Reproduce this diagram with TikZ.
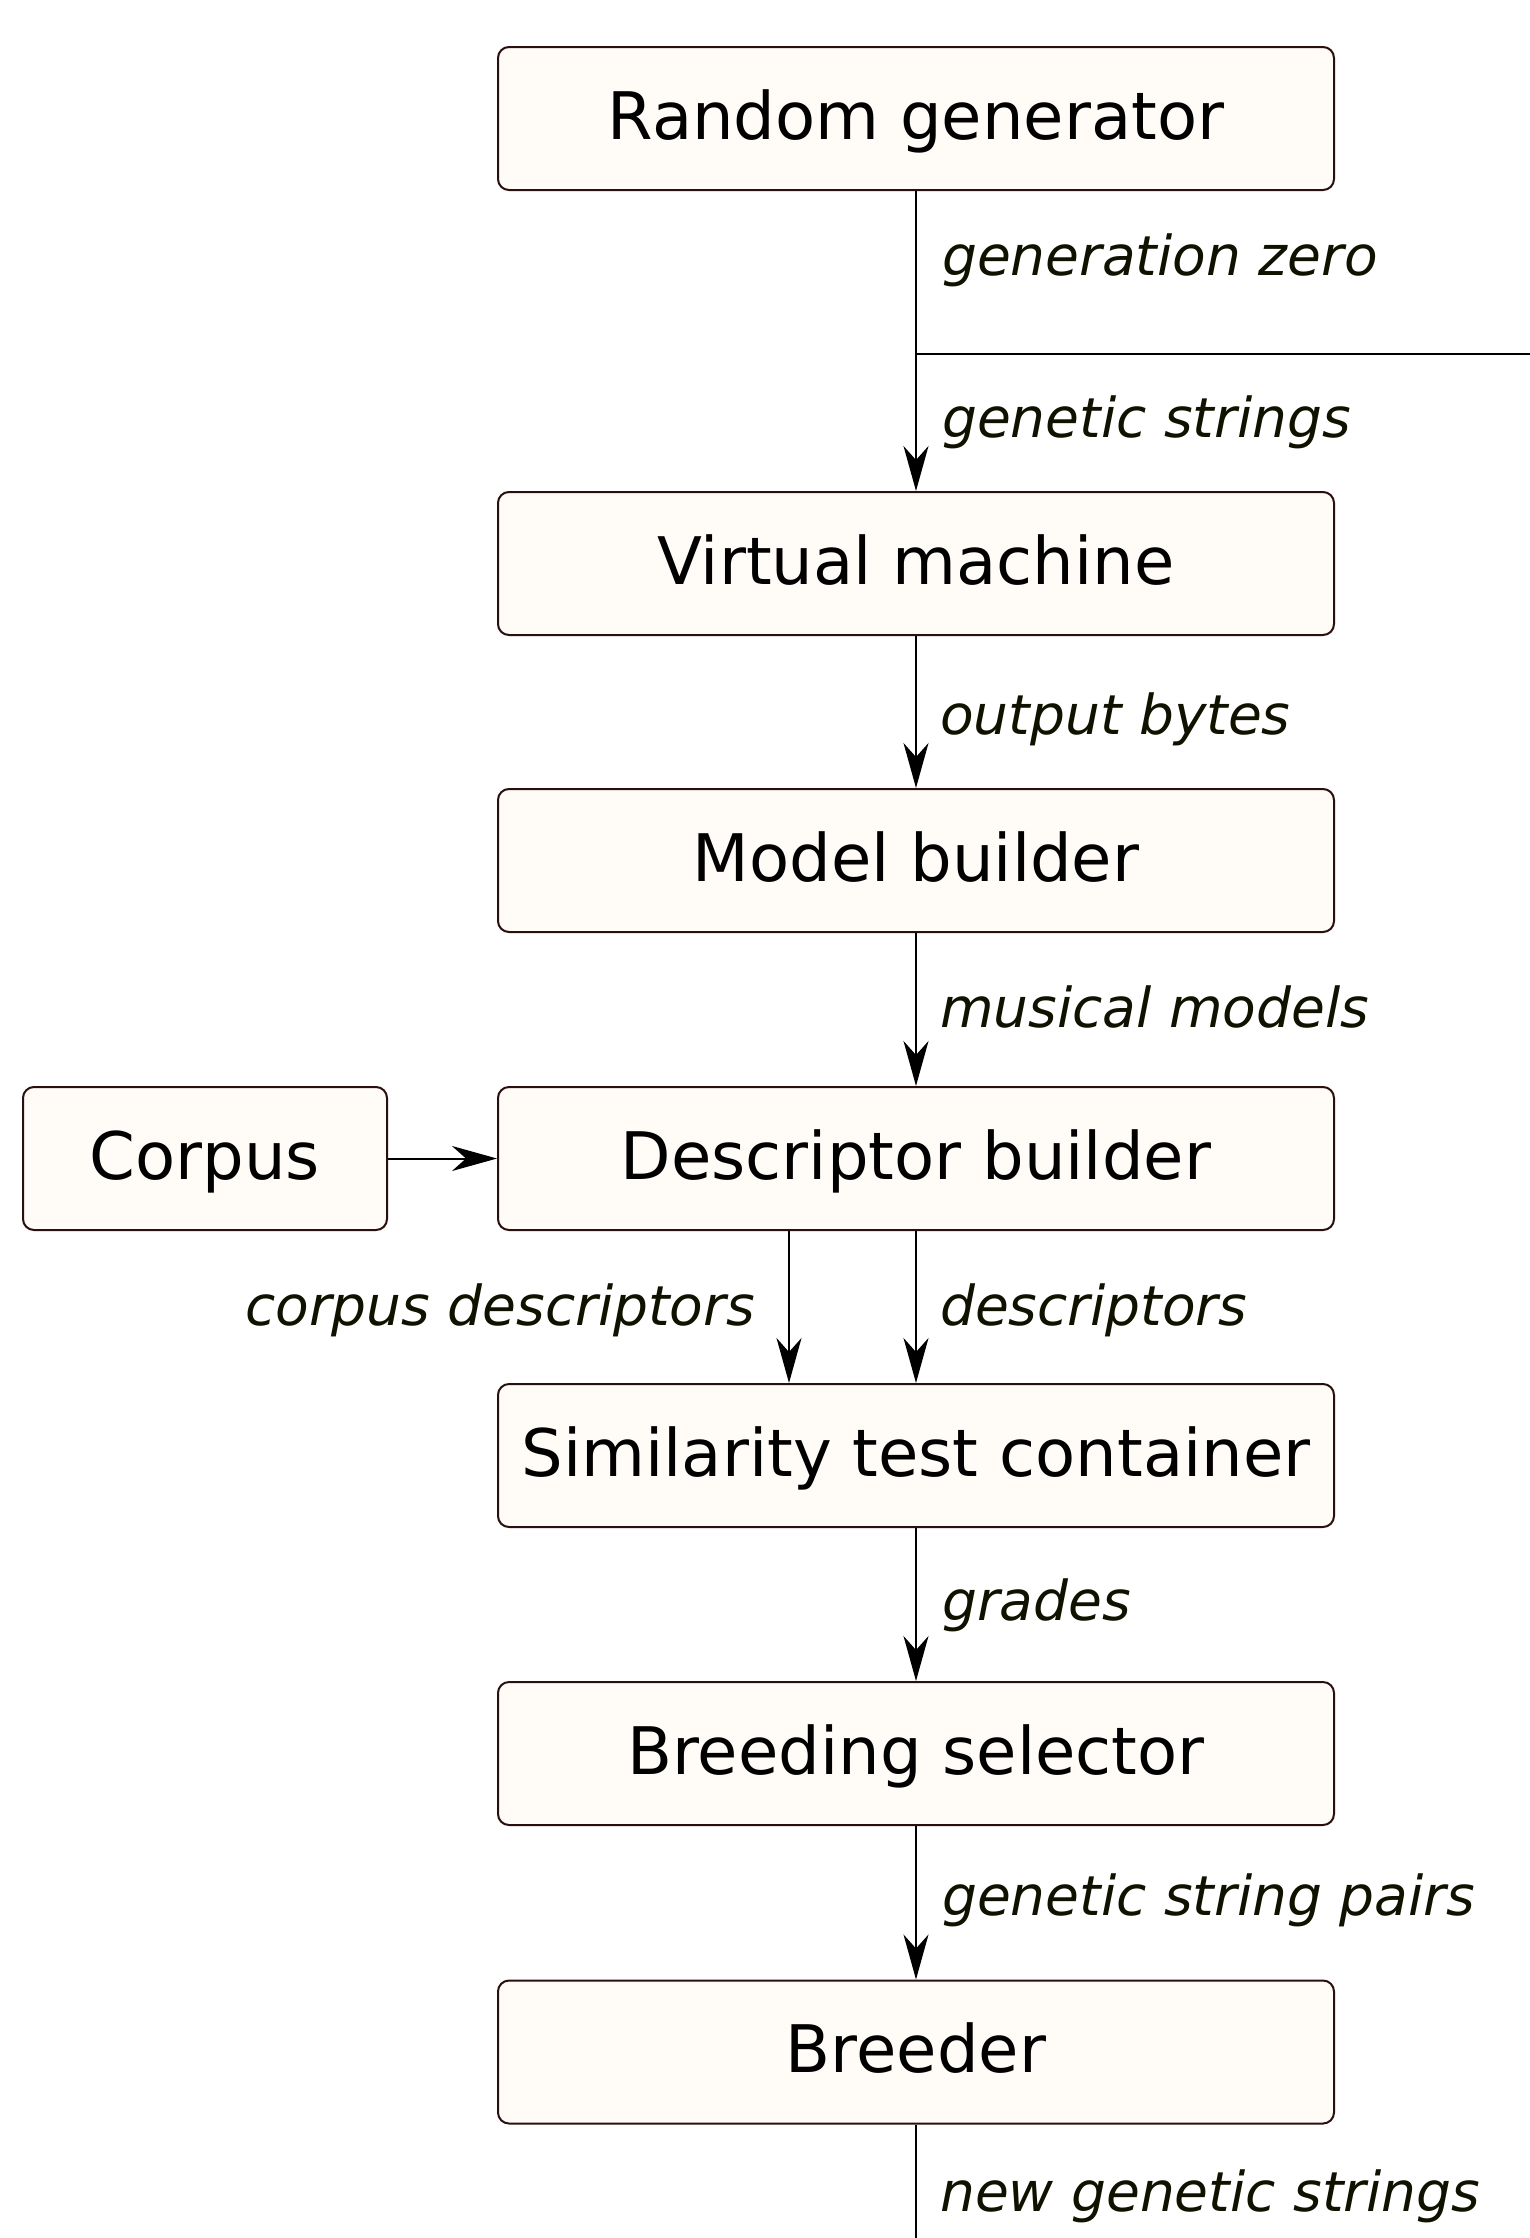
\documentclass[tikz,border=0pt]{standalone}
\usepackage{fontspec}
\setmainfont{DejaVu Sans}[ItalicFont={DejaVu Sans Oblique}]
\usetikzlibrary{arrows.meta}
\definecolor{boxfill}{HTML}{FFFBF6}
\definecolor{boxline}{HTML}{2A0F0F}
\definecolor{lbl}{HTML}{111100}
\begin{document}
\begin{tikzpicture}[x=1pt,y=-1pt,
  box/.style={draw=boxline, line width=2pt, fill=boxfill, rounded corners=11pt,
    minimum width=836pt, minimum height=143pt, inner sep=0pt,
    font=\fontsize{65.6}{78}\selectfont, text height=41pt, text depth=0pt},
  conn/.style={line width=2pt, draw=black},
  arr/.style={conn, -{Stealth[length=45pt,width=25pt,inset=14pt]}},
  lab/.style={font=\fontsize{55}{66}\selectfont\itshape, text=lbl, inner sep=0pt}]
\useasboundingbox (0,0) rectangle (1530,2238);
\fill[white] (0,0) rectangle (1530,2238);

\node[box] (rg) at (916,118.5) {Random generator};
\node[box] (vm) at (916,563.5) {Virtual machine};
\node[box] (mb) at (916,860.5) {Model builder};
\node[box] (db) at (916,1158.5) {Descriptor builder};
\node[box] (st) at (916,1455.5) {Similarity test container};
\node[box] (bs) at (916,1753.5) {Breeding selector};
\node[box] (br) at (916,2052) {Breeder};
\node[box, minimum width=364pt] (cp) at (205,1158.5) {Corpus};

\coordinate (j) at (916,354);
\coordinate (jr) at (1530,354);
\coordinate (bot) at (916,2238);

\draw[conn] (rg) -- (j);
\draw[conn] (j) -- (jr);
\draw[arr] (j) -- (vm);
\draw[arr] (vm) -- (mb);
\draw[arr] (mb) -- (db);
\draw[arr] (cp) -- (db);
\draw[arr] ([xshift=-127pt]db.south) -- ([xshift=-127pt]st.north);
\draw[arr] (db) -- (st);
\draw[arr] (st) -- (bs);
\draw[arr] (bs) -- (br);
\draw[conn] (br) -- (bot);

\node[lab, anchor=base west] (l1) at (942,275) {generation zero};
\node[lab, anchor=base west] (l2) at (942,437) {genetic strings};
\node[lab, anchor=base west] (l3) at (940,734) {output bytes};
\node[lab, anchor=base west] (l4) at (940,1027) {musical models};
\node[lab, anchor=base east] (l5) at (755,1325) {corpus descriptors};
\node[lab, anchor=base west] (l6) at (940,1325) {descriptors};
\node[lab, anchor=base west] (l7) at (942,1620) {grades};
\node[lab, anchor=base west] (l8) at (942,1915) {genetic string pairs};
\node[lab, anchor=base west] (l9) at (940,2211) {new genetic strings};
\end{tikzpicture}
\end{document}
